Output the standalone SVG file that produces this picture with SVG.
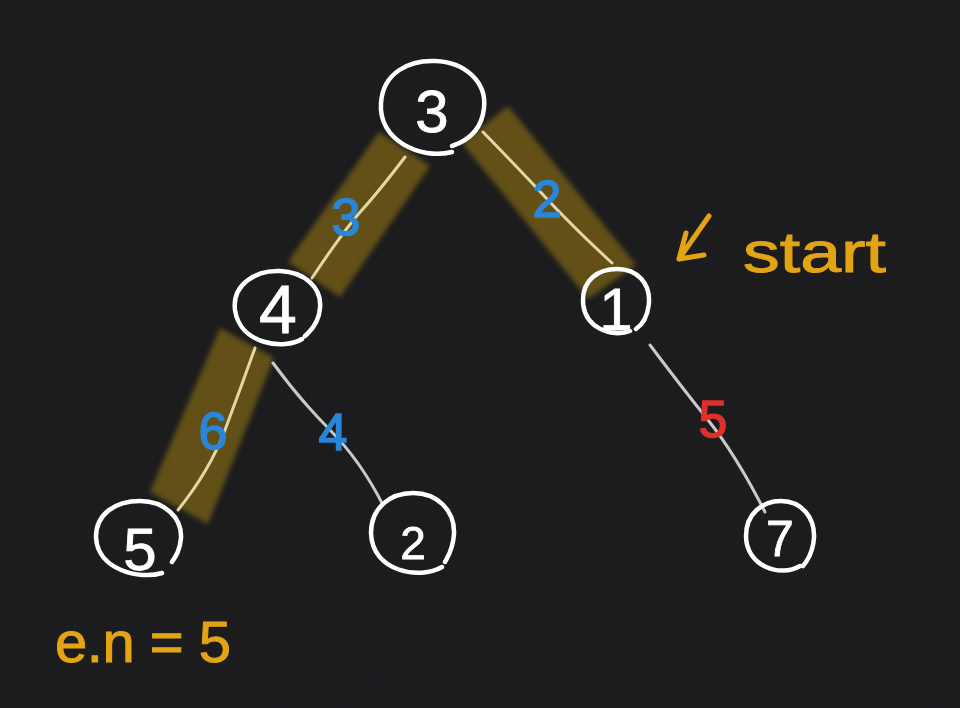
<svg xmlns="http://www.w3.org/2000/svg" width="960" height="708" viewBox="0 0 960 708">
<defs>
<filter id="soft" x="-20%" y="-20%" width="140%" height="140%"><feGaussianBlur stdDeviation="2.5"/></filter>
<filter id="grain" x="0" y="0" width="100%" height="100%">
<feTurbulence type="fractalNoise" baseFrequency="0.9" numOctaves="2" seed="3"/>
<feColorMatrix type="matrix" values="0 0 0 0 0.4  0 0 0 0 0.4  0 0 0 0 0.42  0 0 0 0.06 0"/>
</filter>
<style>
.hl{fill:#665315;opacity:0.95}
.edge{stroke:#c9c9c9;stroke-width:3;stroke-linecap:round;fill:none}
.edgehl{stroke:#e4d7a6;stroke-width:3;stroke-linecap:round;fill:none}
.ring{fill:none;stroke:#ffffff;stroke-width:4.5;stroke-linecap:round}
.num{font-family:"Liberation Sans",Arial,sans-serif;fill:#ffffff;stroke:#ffffff;stroke-width:0.8;text-anchor:middle}
.w{font-family:"Liberation Sans",Arial,sans-serif;fill:#2a86d8;stroke:#2a86d8;stroke-width:1.5;text-anchor:middle;font-size:52px}
.red{fill:#e0302a;stroke:#e0302a}
.note{font-family:"Liberation Sans",Arial,sans-serif;fill:#e3a414;stroke:#e3a414;stroke-width:1;font-size:58px}
</style>
</defs>
<rect width="960" height="708" fill="#18181b"/>
<rect width="960" height="708" filter="url(#grain)"/>

<g id="highlights" filter="url(#soft)">
<polygon class="hl" points="379,132 430,166 340,297 288,262"/>
<polygon class="hl" points="508,106 462,143 588,299 636,265"/>
<polygon class="hl" points="220,328 274,358 208,524 150,492"/>
</g>

<g id="connectors">
<path class="edgehl" d="M405,157 Q380,190 362,210 T312,278"/>
<path class="edgehl" d="M483,132 Q520,170 548,200 T612,263"/>
<path class="edgehl" d="M255,348 Q240,390 225,430 T178,510"/>
<path class="edge" d="M273,363 Q300,400 330,430 T383,505"/>
<path class="edge" d="M650,345 Q680,385 708,420 T765,512"/>
</g>

<g id="edge-labels">
<text class="w" x="346" y="235">3</text>
<text class="w" x="547" y="217">2</text>
<text class="w" x="213" y="449">6</text>
<text class="w" x="333" y="450">4</text>
<text class="w red" x="713" y="437">5</text>
</g>

<g id="node-3">
<path class="ring" d="M452,152 C420,160 378,140 381,103 C383,72 410,60 435,61 C465,62 487,82 484,108 C482,128 470,140 452,146"/>
<text class="num" x="432" y="132" font-size="60">3</text>
</g>
<g id="node-4">
<path class="ring" d="M302,339 C285,350 240,345 235,310 C232,285 255,270 280,271 C305,272 322,288 320,308 C319,322 312,330 305,336"/>
<text class="num" x="278" y="333" font-size="68">4</text>
</g>
<g id="node-1">
<path class="ring" d="M630,331 C612,338 583,328 583,300 C583,280 598,269 617,269 C638,269 650,284 649,302 C648,316 642,325 636,329"/>
<text class="num" x="616" y="330" font-size="60">1</text>
</g>
<g id="node-5">
<path class="ring" d="M162,573 C140,580 97,570 96,537 C96,514 115,501 140,501 C165,501 182,518 181,538 C180,550 176,556 172,562"/>
<text class="num" x="140" y="570" font-size="60">5</text>
</g>
<g id="node-2">
<path class="ring" d="M442,567 C420,580 372,572 371,533 C371,508 390,493 413,493 C437,493 455,510 454,534 C453,550 448,556 445,562"/>
<text class="num" x="413" y="559" font-size="46">2</text>
</g>
<g id="node-7">
<path class="ring" d="M800,566 C780,578 746,566 746,536 C746,514 762,501 781,501 C802,501 815,518 814,538 C813,552 808,560 803,566"/>
<text class="num" x="780" y="556" font-size="50">7</text>
</g>

<g id="start-note">
<path d="M709,216 L679,259 M686,233 L679,259 L704,255" fill="none" stroke="#e3a414" stroke-width="5" stroke-linecap="round" stroke-linejoin="round"/>
<text class="note" x="743" y="272" textLength="143" lengthAdjust="spacingAndGlyphs">start</text>
</g>
<g id="en-note">
<text class="note" x="55" y="662" textLength="176" lengthAdjust="spacing">e.n = 5</text>
</g>
</svg>
